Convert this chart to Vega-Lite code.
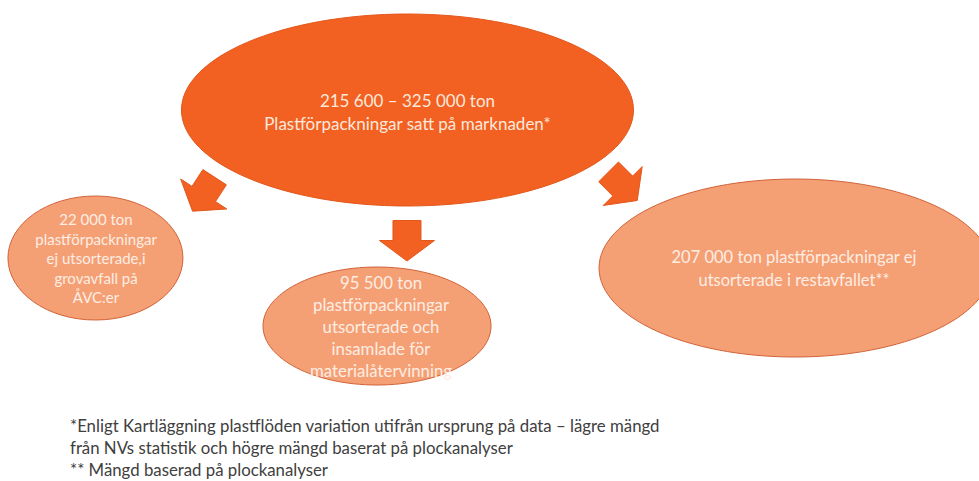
{
  "$schema": "https://vega.github.io/schema/vega-lite/v6.json",
  "width": 979,
  "height": 481,
  "autosize": {"type": "none"},
  "padding": 0,
  "background": "#ffffff",
  "config": {"view": {"stroke": null}, "font": "Lato"},
  "datasets": {
    "shapes": [
      {"id": "top", "kind": "source", "x": 41.62, "y": 22.87},
      {"id": "left", "kind": "target", "x": 9.75, "y": 53.64},
      {"id": "middle", "kind": "target", "x": 38.51, "y": 67.78},
      {"id": "right", "kind": "target", "x": 81.21, "y": 55.72},
      {"id": "arrow_left", "kind": "source", "x": 20.81, "y": 40.33},
      {"id": "arrow_middle", "kind": "source", "x": 41.57, "y": 50.0},
      {"id": "arrow_right", "kind": "source", "x": 63.61, "y": 38.67}
    ],
    "labels": [
      {"id": "top", "x": 41.62, "y": 21.21, "text": "215 600 – 325 000 ton\nPlastförpackningar satt på marknaden*"},
      {"id": "left", "x": 9.81, "y": 45.74, "text": "22 000 ton\nplastförpackningar\nej utsorterade,i\ngrovavfall på\nÅVC:er"},
      {"id": "middle", "x": 38.92, "y": 59.04, "text": "95 500 ton\nplastförpackningar\nutsorterade och\ninsamlade för\nmaterialåtervinning"},
      {"id": "right", "x": 81.1, "y": 53.64, "text": "207 000 ton plastförpackningar ej\nutsorterade i restavfallet**"}
    ],
    "notes": [
      {"x": 7.15, "y": 88.77, "text": "*Enligt Kartläggning plastflöden variation utifrån ursprung på data – lägre mängd\nfrån NVs statistik och högre mängd baserat på plockanalyser\n** Mängd baserad på plockanalyser"}
    ]
  },
  "encoding": {
    "x": {"field": "x", "type": "quantitative", "scale": {"domain": [0, 100]}, "axis": null},
    "y": {"field": "y", "type": "quantitative", "scale": {"domain": [0, 100], "reverse": true}, "axis": null}
  },
  "layer": [
    {
      "data": {"name": "shapes"},
      "mark": {"type": "point", "filled": true, "size": 4, "opacity": 1, "strokeWidth": 1, "clip": true},
      "encoding": {
        "shape": {
          "field": "id",
          "type": "nominal",
          "scale": {
            "domain": ["top", "left", "middle", "right", "arrow_left", "arrow_middle", "arrow_right"],
            "range": [
              "M-226,0A226,96 0 1,0 226,0A226,96 0 1,0 -226,0Z",
              "M-87.5,0A87.5,62 0 1,0 87.5,0A87.5,62 0 1,0 -87.5,0Z",
              "M-114,0A114,59 0 1,0 114,0A114,59 0 1,0 -114,0Z",
              "M-196,0A196,89 0 1,0 196,0A196,89 0 1,0 -196,0Z",
              "M-0.85,-24.4L22.63,-9.15L11.74,7.62L23.06,14.98L-11.16,17.19L-23.06,-14.98L-11.74,-7.62Z",
              "M-14,-20L14,-20L14,0L27.5,0L0,20.5L-27.5,0L-14,0Z",
              "M-24.04,-4.24L-4.24,-24.04L9.9,-9.9L19.45,-19.45L14.5,14.5L-19.45,19.45L-9.9,9.9Z"
            ]
          },
          "legend": null
        },
        "fill": {"field": "kind", "type": "nominal", "scale": {"domain": ["source", "target"], "range": ["#F26122", "#F5A074"]}, "legend": null},
        "stroke": {"field": "kind", "type": "nominal", "scale": {"domain": ["source", "target"], "range": ["#E2571B", "#D2633A"]}, "legend": null}
      }
    },
    {
      "data": {"name": "labels"},
      "transform": [{"filter": "datum.id == 'top'"}],
      "mark": {"type": "text", "align": "center", "baseline": "middle", "lineBreak": "\n", "fontSize": 17, "lineHeight": 23, "fill": "#FDE8DC"},
      "encoding": {"text": {"field": "text"}}
    },
    {
      "data": {"name": "labels"},
      "transform": [{"filter": "datum.id == 'left'"}],
      "mark": {"type": "text", "align": "center", "baseline": "middle", "lineBreak": "\n", "fontSize": 15, "lineHeight": 19.5, "fill": "#FDEDE4"},
      "encoding": {"text": {"field": "text"}}
    },
    {
      "data": {"name": "labels"},
      "transform": [{"filter": "datum.id == 'middle'"}],
      "mark": {"type": "text", "align": "center", "baseline": "middle", "lineBreak": "\n", "fontSize": 16.8, "lineHeight": 22, "fill": "#FDEDE4"},
      "encoding": {"text": {"field": "text"}}
    },
    {
      "data": {"name": "labels"},
      "transform": [{"filter": "datum.id == 'right'"}],
      "mark": {"type": "text", "align": "center", "baseline": "middle", "lineBreak": "\n", "fontSize": 16.5, "lineHeight": 23, "fill": "#FDEDE4"},
      "encoding": {"text": {"field": "text"}}
    },
    {
      "data": {"name": "notes"},
      "mark": {"type": "text", "align": "left", "baseline": "middle", "lineBreak": "\n", "fontSize": 16.8, "lineHeight": 22, "fill": "#404040"},
      "encoding": {"text": {"field": "text"}}
    }
  ]
}
